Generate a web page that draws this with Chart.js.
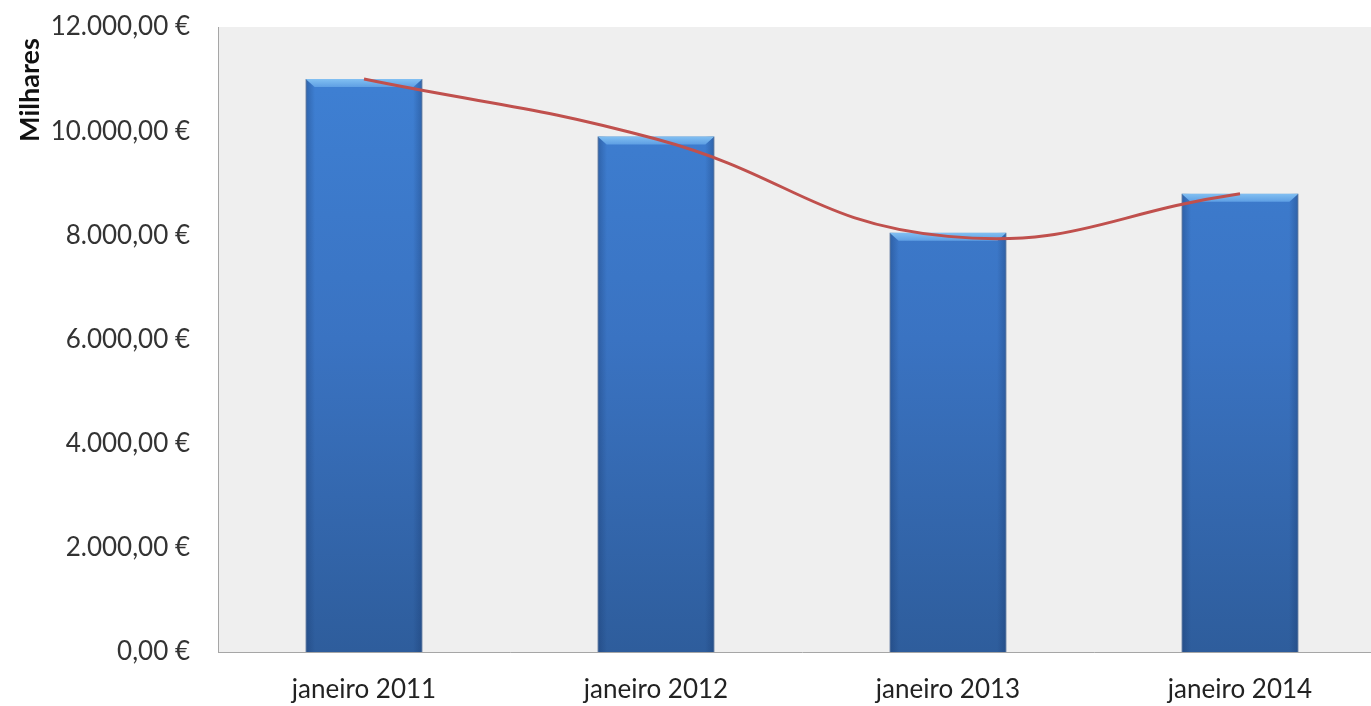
<!DOCTYPE html>
<html>
<head>
<meta charset="utf-8">
<script src="https://cdn.jsdelivr.net/npm/chart.js@4.4.1/dist/chart.umd.min.js"></script>
<style>
  html, body { margin: 0; padding: 0; background: #ffffff; overflow: hidden; }
  #wrap { width: 1386px; height: 706px; }
</style>
</head>
<body>
<div id="wrap"><canvas id="mainChart"></canvas></div>
<script>
// ============ DATA ============

const categories = ['janeiro 2011', 'janeiro 2012', 'janeiro 2013', 'janeiro 2014'];
const barValues = [11000, 9900, 8050, 8800];
const trendValues = [11000, 9850, 7980, 8800];
const yTicks = [0, 2000, 4000, 6000, 8000, 10000, 12000];
const unitsLabel = 'Milhares';

const FONT = 'Lato, "Open Sans", sans-serif';

function formatEuro(v) {
    const parts = v.toFixed(2).split('.');
    const intPart = parts[0].replace(/\B(?=(\d{3})+(?!\d))/g, '.');
    return intPart + ',' + parts[1] + ' €';
}

// plot area background
const plotBackground = {
    id: 'plotBackground',
    beforeDraw(chart) {
        const { ctx, chartArea } = chart;
        ctx.save();
        ctx.fillStyle = '#efefef';
        ctx.fillRect(chartArea.left, chartArea.top, chartArea.right - chartArea.left, chartArea.bottom - chartArea.top);
        ctx.restore();
    }
};

// "Milhares" display-units label near the top of the value axis
const unitsTitle = {
    id: 'unitsTitle',
    afterDraw(chart) {
        const { ctx, chartArea } = chart;
        ctx.save();
        ctx.translate(30, chartArea.top + 63);
        ctx.rotate(-Math.PI / 2);
        ctx.fillStyle = '#111111';
        ctx.font = 'bold 27px ' + FONT;
        ctx.textAlign = 'center';
        ctx.textBaseline = 'middle';
        ctx.fillText(unitsLabel, 0, 0);
        ctx.restore();
    }
};

// light bevel on top + darker sides of each bar
const barBevel = {
    id: 'barBevel',
    afterDatasetDraw(chart, args) {
        if (args.index !== 1) return;
        const { ctx } = chart;
        const meta = chart.getDatasetMeta(1);
        ctx.save();
        meta.data.forEach(bar => {
            const half = bar.width / 2;
            const left = bar.x - half, right = bar.x + half;
            const side = ctx.createLinearGradient(left, 0, right, 0);
            side.addColorStop(0, 'rgba(20,50,100,0.35)');
            side.addColorStop(0.08, 'rgba(20,50,100,0)');
            side.addColorStop(0.92, 'rgba(20,50,100,0)');
            side.addColorStop(1, 'rgba(20,50,100,0.35)');
            ctx.fillStyle = side;
            ctx.fillRect(left, bar.y, bar.width, bar.base - bar.y);
            const top = ctx.createLinearGradient(0, bar.y, 0, bar.y + 9);
            top.addColorStop(0, '#82c0f2');
            top.addColorStop(1, '#5a9be2');
            ctx.fillStyle = top;
            ctx.beginPath();
            ctx.moveTo(left, bar.y);
            ctx.lineTo(right, bar.y);
            ctx.lineTo(right - 9, bar.y + 8);
            ctx.lineTo(left + 9, bar.y + 8);
            ctx.closePath();
            ctx.fill();
        });
        ctx.restore();
    }
};

function barGradient(context) {
    const area = context.chart.chartArea;
    if (!area) return '#3a75c4';
    const g = context.chart.ctx.createLinearGradient(0, area.top, 0, area.bottom);
    g.addColorStop(0, '#3f82d6');
    g.addColorStop(0.5, '#3a73c2');
    g.addColorStop(1, '#2e5d9c');
    return g;
}

const ctx = document.getElementById('mainChart').getContext('2d');

const chart = new Chart(ctx, {
    type: 'bar',
    data: {
        labels: categories,
        datasets: [
            {
                type: 'line',
                label: 'Tendência',
                data: trendValues,
                borderColor: '#c0504d',
                borderWidth: 3,
                pointRadius: 0,
                tension: 0.45,
                fill: false,
                order: 0
            },
            {
                type: 'bar',
                label: 'Valor',
                data: barValues,
                backgroundColor: barGradient,
                borderColor: '#2c5a94',
                borderWidth: 1,
                barPercentage: 1,
                categoryPercentage: 0.4,
                order: 1
            }
        ]
    },
    options: {
        responsive: true,
        maintainAspectRatio: false,
        animation: false,
        layout: { padding: { top: 27, left: 0, right: 0, bottom: 0 } },
        scales: {
            x: {
                grid: { display: false, drawTicks: false },
                border: { display: true, color: '#a6a6a6', width: 1 },
                ticks: {
                    color: '#222222',
                    font: { family: FONT, size: 26 },
                    padding: 22
                },
                afterFit(scale) { scale.height = 54; }
            },
            y: {
                min: 0,
                max: 12000,
                grid: { display: false, drawTicks: false },
                border: { display: true, color: '#a6a6a6', width: 1 },
                afterBuildTicks(scale) { scale.ticks = yTicks.map(v => ({ value: v })); },
                ticks: {
                    color: '#333333',
                    font: { family: FONT, size: 26 },
                    padding: 28,
                    callback: v => formatEuro(v)
                },
                afterFit(scale) {
                    scale.width = 218;
                    scale.paddingTop = 0;
                    scale.paddingBottom = 0;
                }
            }
        },
        plugins: {
            legend: { display: false },
            tooltip: { enabled: false },
            title: { display: false }
        }
    },
    plugins: [plotBackground, barBevel, unitsTitle]
});
</script>
</body>
</html>
